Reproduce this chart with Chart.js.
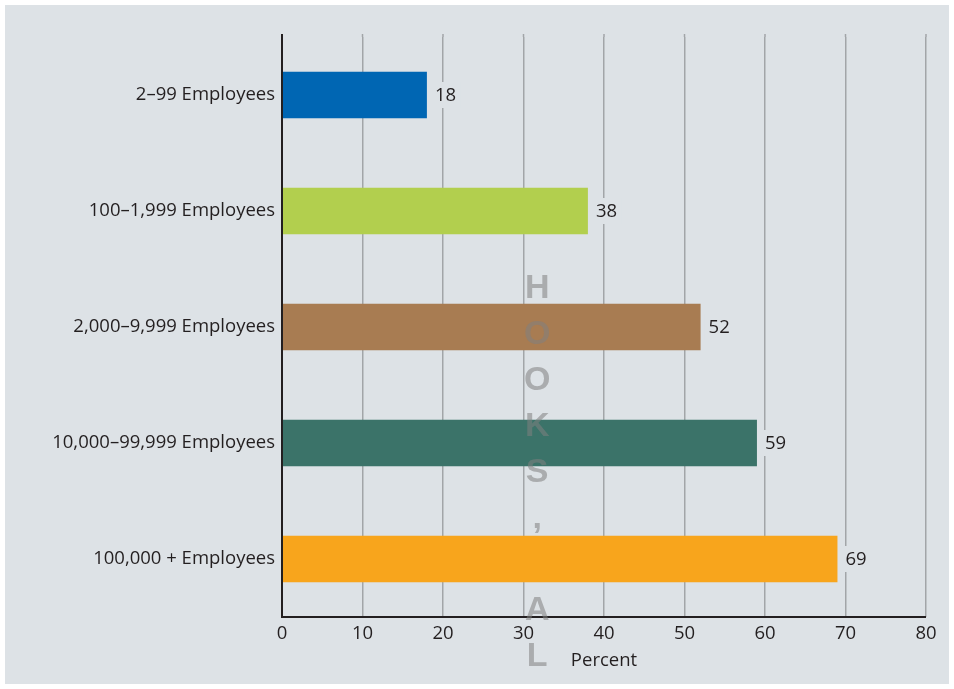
<!DOCTYPE html>
<html><head><meta charset="utf-8">
<script src="https://cdn.jsdelivr.net/npm/chart.js@4"></script>
<style>html,body{margin:0;padding:0;background:#fff}#wrap{width:954px;height:689px;position:relative}</style>
</head><body><div id="wrap"><canvas id="c"></canvas></div>
<script>
const categories = ['2–99 Employees','100–1,999 Employees','2,000–9,999 Employees','10,000–99,999 Employees','100,000 + Employees'];
const values = [18, 38, 52, 59, 69];
const barColors = ['#0066b3','#b2cf4e','#a87c52','#3b7369','#f8a51c'];
const xTicks = [0,10,20,30,40,50,60,70,80];
const axisTitle = 'Percent';
const watermark = ['H','O','O','K','S',',',' ','A','L'];

const FONT = "'Open Sans', sans-serif";
const FS = 18.5;
const TEXT = '#231f20';
const BG = '#dde2e6';
const GRID = '#a2a5a8';

const bgPlugin = {
  id: 'bg',
  beforeDraw(chart) {
    const ctx = chart.ctx;
    ctx.save();
    ctx.fillStyle = '#ffffff';
    ctx.fillRect(0, 0, chart.width, chart.height);
    ctx.fillStyle = BG;
    ctx.fillRect(5, 5, chart.width - 10, chart.height - 10);
    ctx.restore();
  },
  beforeDatasetsDraw(chart) {
    const ctx = chart.ctx, a = chart.chartArea, xs = chart.scales.x;
    ctx.save();
    ctx.strokeStyle = GRID; ctx.lineWidth = 1.5;
    xTicks.forEach(v => {
      if (v === 0) return;
      const px = xs.getPixelForValue(v);
      ctx.beginPath(); ctx.moveTo(px, a.top - 3); ctx.lineTo(px, a.top); ctx.stroke();
    });
    ctx.restore();
  },
  afterDatasetsDraw(chart) {
    const ctx = chart.ctx, a = chart.chartArea;
    ctx.save();
    ctx.strokeStyle = TEXT; ctx.lineWidth = 2;
    ctx.beginPath();
    ctx.moveTo(a.left, a.top - 3); ctx.lineTo(a.left, a.bottom);
    ctx.lineTo(a.right, a.bottom);
    ctx.stroke();
    const meta = chart.getDatasetMeta(0);
    ctx.font = FS + 'px ' + FONT;
    ctx.textBaseline = 'middle'; ctx.textAlign = 'left';
    meta.data.forEach((el, i) => {
      const t = String(values[i]);
      const w = ctx.measureText(t).width;
      const x = el.x + 8, y = el.y;
      ctx.fillStyle = BG;
      ctx.fillRect(x - 4, y - 13, w + 8, 26);
      ctx.fillStyle = TEXT;
      ctx.fillText(t, x, y + 1);
    });
    const xs = chart.scales.x;
    const wx = xs.getPixelForValue(31.7);
    ctx.font = "bold 34px 'Liberation Sans', Arial, sans-serif";
    ctx.textAlign = 'center';
    ctx.fillStyle = 'rgba(128,128,128,0.55)';
    watermark.forEach((ch, i) => {
      ctx.fillText(ch, wx, a.top + 252 + i * 46);
    });
    ctx.restore();
  }
};

new Chart(document.getElementById('c'), {
  type: 'bar',
  data: {
    labels: categories,
    datasets: [{
      data: values,
      backgroundColor: barColors,
      borderWidth: 0,
      barPercentage: 0.4,
      categoryPercentage: 1.0
    }]
  },
  options: {
    indexAxis: 'y',
    responsive: true,
    maintainAspectRatio: false,
    animation: false,
    devicePixelRatio: 1,
    layout: { padding: { left: 0, right: 28, top: 37, bottom: 0 } },
    plugins: { legend: { display: false }, tooltip: { enabled: false } },
    scales: {
      x: {
        type: 'linear', min: 0, max: 80,
        afterFit(s) { s.height = 72; },
        afterBuildTicks(s) { s.ticks = xTicks.map(v => ({ value: v })); },
        grid: { color: GRID, lineWidth: 1.5, drawTicks: false },
        border: { display: false },
        ticks: { color: TEXT, font: { family: FONT, size: FS }, padding: 6 },
        title: { display: true, text: axisTitle, color: TEXT, font: { family: FONT, size: FS }, padding: { top: 0, bottom: 17 } }
      },
      y: {
        afterFit(s) { s.width = 282; },
        grid: { display: false, drawTicks: false },
        border: { display: false },
        ticks: { color: TEXT, font: { family: FONT, size: FS }, padding: 7 }
      }
    }
  },
  plugins: [bgPlugin]
});
</script></body></html>
